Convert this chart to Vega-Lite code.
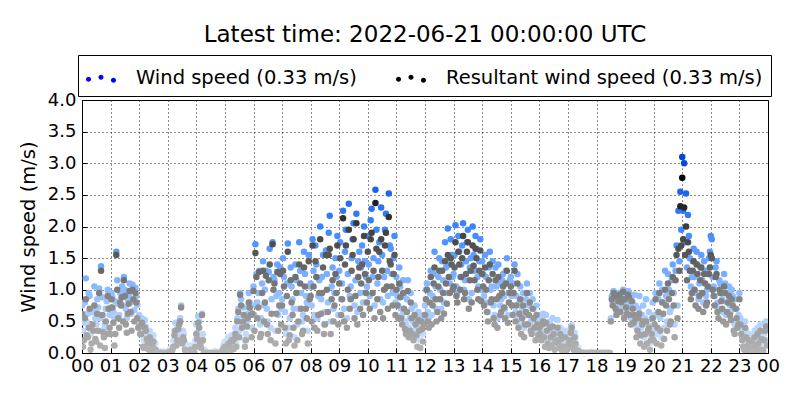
{
  "$schema": "https://vega.github.io/schema/vega-lite/v6.json",
  "autosize": {"type": "none"},
  "padding": {"left": 82, "top": 100, "right": 32, "bottom": 47},
  "width": 686,
  "height": 253,
  "background": "white",
  "config": {
    "font": "DejaVu Sans",
    "view": {"stroke": "black", "strokeWidth": 1},
    "axis": {
      "labelFont": "DejaVu Sans", "labelFontSize": 18, "labelColor": "black",
      "titleFont": "DejaVu Sans", "titleFontSize": 19.5, "titleFontWeight": "normal", "titleColor": "black",
      "grid": true, "gridColor": "black", "gridDash": [1, 3], "gridOpacity": 0.9, "gridWidth": 1,
      "domain": false, "ticks": true, "tickColor": "black", "tickSize": -5, "tickWidth": 1,
      "labelOverlap": false
    }
  },
  "title": {
    "text": "Latest time: 2022-06-21 00:00:00 UTC",
    "font": "DejaVu Sans", "fontSize": 23, "fontWeight": "normal", "color": "black",
    "anchor": "middle", "offset": 8
  },
  "data": {"values": [
    {"m":0,"w":0.75,"r":0.62},{"m":4,"w":0.48,"r":0.20},{"m":8,"w":1.18,"r":0.85},{"m":12,"w":0.62,"r":0.25},{"m":16,"w":0.90,"r":0.70},{"m":20,"w":0.40,"r":0.15},{"m":24,"w":0.70,"r":0.35},{"m":28,"w":0.55,"r":0.22},{"m":32,"w":0.85,"r":0.62},{"m":36,"w":1.02,"r":0.95},{"m":40,"w":1.37,"r":1.30},{"m":44,"w":0.60,"r":0.33},{"m":48,"w":0.45,"r":0.08},{"m":52,"w":0.82,"r":0.30},{"m":56,"w":0.93,"r":0.70},
    {"m":60,"w":0.72,"r":0.30},{"m":64,"w":0.88,"r":0.72},{"m":68,"w":0.55,"r":0.12},{"m":72,"w":1.60,"r":1.55},{"m":76,"w":0.78,"r":0.55},{"m":80,"w":0.95,"r":0.80},{"m":84,"w":1.05,"r":0.88},{"m":88,"w":1.20,"r":1.15},{"m":92,"w":0.70,"r":0.45},{"m":96,"w":0.85,"r":0.62},{"m":100,"w":1.10,"r":0.98},{"m":104,"w":0.62,"r":0.35},{"m":108,"w":0.98,"r":0.85},{"m":112,"w":1.03,"r":0.95},{"m":116,"w":0.76,"r":0.55},
    {"m":120,"w":0.60,"r":0.42},{"m":124,"w":0.45,"r":0.30},{"m":128,"w":0.28,"r":0.10},{"m":132,"w":0.52,"r":0.40},{"m":136,"w":0.35,"r":0.22},{"m":140,"w":0.18,"r":0.05},{"m":144,"w":0.30,"r":0.20},{"m":148,"w":0.22,"r":0.12},{"m":152,"w":0.10,"r":0.03},{"m":156,"w":0.05,"r":0.02},{"m":160,"w":0.00,"r":0.00},{"m":164,"w":0.00,"r":0.00},{"m":168,"w":0.02,"r":0.00},{"m":172,"w":0.00,"r":0.00},{"m":176,"w":0.00,"r":0.00},
    {"m":180,"w":0.00,"r":0.00},{"m":184,"w":0.05,"r":0.02},{"m":188,"w":0.00,"r":0.00},{"m":192,"w":0.20,"r":0.10},{"m":196,"w":0.48,"r":0.35},{"m":200,"w":0.30,"r":0.20},{"m":204,"w":0.50,"r":0.45},{"m":208,"w":0.75,"r":0.72},{"m":212,"w":0.35,"r":0.25},{"m":216,"w":0.15,"r":0.05},{"m":220,"w":0.00,"r":0.00},{"m":224,"w":0.00,"r":0.00},{"m":228,"w":0.12,"r":0.05},{"m":232,"w":0.00,"r":0.00},{"m":236,"w":0.05,"r":0.00},
    {"m":240,"w":0.45,"r":0.30},{"m":244,"w":0.58,"r":0.48},{"m":248,"w":0.25,"r":0.15},{"m":252,"w":0.62,"r":0.60},{"m":256,"w":0.00,"r":0.00},{"m":260,"w":0.00,"r":0.00},{"m":264,"w":0.00,"r":0.00},{"m":268,"w":0.00,"r":0.00},{"m":272,"w":0.00,"r":0.00},{"m":276,"w":0.00,"r":0.00},{"m":280,"w":0.03,"r":0.00},{"m":284,"w":0.00,"r":0.00},{"m":288,"w":0.00,"r":0.00},{"m":292,"w":0.00,"r":0.00},{"m":296,"w":0.10,"r":0.05},
    {"m":300,"w":0.18,"r":0.10},{"m":304,"w":0.08,"r":0.03},{"m":308,"w":0.25,"r":0.15},{"m":312,"w":0.12,"r":0.08},{"m":316,"w":0.20,"r":0.18},{"m":320,"w":0.30,"r":0.22},{"m":324,"w":0.15,"r":0.10},{"m":328,"w":0.70,"r":0.65},{"m":332,"w":0.95,"r":0.92},{"m":336,"w":0.45,"r":0.40},{"m":340,"w":0.72,"r":0.60},{"m":344,"w":0.30,"r":0.20},{"m":348,"w":0.62,"r":0.55},{"m":352,"w":0.80,"r":0.72},{"m":356,"w":0.40,"r":0.25},
    {"m":360,"w":1.05,"r":0.98},{"m":364,"w":1.72,"r":1.58},{"m":368,"w":0.80,"r":0.55},{"m":372,"w":1.30,"r":1.28},{"m":376,"w":0.55,"r":0.30},{"m":380,"w":1.45,"r":1.30},{"m":384,"w":1.00,"r":0.80},{"m":388,"w":0.70,"r":0.45},{"m":392,"w":1.28,"r":1.15},{"m":396,"w":0.40,"r":0.20},{"m":400,"w":1.75,"r":1.72},{"m":404,"w":1.15,"r":1.10},{"m":408,"w":0.90,"r":0.62},{"m":412,"w":0.60,"r":0.35},{"m":416,"w":1.35,"r":1.25},
    {"m":420,"w":0.85,"r":0.75},{"m":424,"w":1.20,"r":1.05},{"m":428,"w":0.30,"r":0.15},{"m":432,"w":1.73,"r":1.60},{"m":436,"w":0.55,"r":0.28},{"m":440,"w":1.05,"r":0.80},{"m":444,"w":0.70,"r":0.40},{"m":448,"w":1.40,"r":1.20},{"m":452,"w":0.45,"r":0.20},{"m":456,"w":1.75,"r":1.40},{"m":460,"w":0.95,"r":0.70},{"m":464,"w":0.60,"r":0.35},{"m":468,"w":1.25,"r":1.05},{"m":472,"w":0.80,"r":0.55},{"m":476,"w":1.55,"r":1.45},
    {"m":480,"w":1.10,"r":0.90},{"m":484,"w":1.80,"r":1.70},{"m":488,"w":0.60,"r":0.40},{"m":492,"w":1.40,"r":1.20},{"m":496,"w":0.90,"r":0.60},{"m":500,"w":2.00,"r":1.80},{"m":504,"w":1.20,"r":0.95},{"m":508,"w":0.45,"r":0.30},{"m":512,"w":1.62,"r":1.55},{"m":516,"w":0.80,"r":0.65},{"m":520,"w":2.17,"r":1.65},{"m":524,"w":1.05,"r":0.85},{"m":528,"w":0.70,"r":0.50},{"m":532,"w":1.50,"r":1.25},{"m":536,"w":1.85,"r":1.70},
    {"m":540,"w":1.30,"r":1.10},{"m":544,"w":0.85,"r":0.60},{"m":548,"w":2.25,"r":2.13},{"m":552,"w":1.60,"r":1.40},{"m":556,"w":0.55,"r":0.40},{"m":560,"w":2.36,"r":1.95},{"m":564,"w":1.05,"r":0.85},{"m":568,"w":1.80,"r":1.55},{"m":572,"w":0.75,"r":0.55},{"m":576,"w":2.20,"r":2.05},{"m":580,"w":1.45,"r":1.20},{"m":584,"w":0.95,"r":0.70},{"m":588,"w":1.70,"r":1.40},{"m":592,"w":2.00,"r":1.85},{"m":596,"w":1.20,"r":0.95},
    {"m":600,"w":1.85,"r":1.60},{"m":604,"w":0.90,"r":0.70},{"m":608,"w":2.28,"r":1.90},{"m":612,"w":1.50,"r":1.30},{"m":616,"w":2.58,"r":2.37},{"m":620,"w":1.10,"r":0.85},{"m":624,"w":1.75,"r":1.60},{"m":628,"w":2.30,"r":1.80},{"m":632,"w":0.80,"r":0.55},{"m":636,"w":1.95,"r":1.70},{"m":640,"w":1.30,"r":1.05},{"m":644,"w":2.52,"r":2.15},{"m":648,"w":1.65,"r":1.40},{"m":652,"w":0.95,"r":0.75},{"m":656,"w":1.85,"r":1.55},
    {"m":660,"w":1.20,"r":1.00},{"m":664,"w":0.75,"r":0.55},{"m":668,"w":1.05,"r":0.88},{"m":672,"w":0.60,"r":0.45},{"m":676,"w":0.90,"r":0.70},{"m":680,"w":0.45,"r":0.30},{"m":684,"w":1.15,"r":0.98},{"m":688,"w":0.55,"r":0.35},{"m":692,"w":0.70,"r":0.55},{"m":696,"w":0.35,"r":0.20},{"m":700,"w":0.55,"r":0.45},{"m":704,"w":0.25,"r":0.10},{"m":708,"w":0.45,"r":0.35},{"m":712,"w":0.60,"r":0.50},{"m":716,"w":0.30,"r":0.18},
    {"m":720,"w":0.75,"r":0.60},{"m":724,"w":1.10,"r":1.00},{"m":728,"w":0.55,"r":0.40},{"m":732,"w":1.30,"r":1.20},{"m":736,"w":0.90,"r":0.75},{"m":740,"w":1.60,"r":1.35},{"m":744,"w":0.70,"r":0.50},{"m":748,"w":1.20,"r":1.05},{"m":752,"w":1.00,"r":0.85},{"m":756,"w":1.45,"r":1.30},{"m":760,"w":0.80,"r":0.62},{"m":764,"w":1.35,"r":1.10},{"m":768,"w":1.97,"r":1.55},{"m":772,"w":1.10,"r":0.95},{"m":776,"w":1.55,"r":1.40},
    {"m":780,"w":1.25,"r":1.05},{"m":784,"w":2.02,"r":1.75},{"m":788,"w":0.95,"r":0.80},{"m":792,"w":1.60,"r":1.40},{"m":796,"w":1.40,"r":1.20},{"m":800,"w":2.05,"r":1.85},{"m":804,"w":1.15,"r":0.95},{"m":808,"w":1.75,"r":1.60},{"m":812,"w":0.85,"r":0.70},{"m":816,"w":1.50,"r":1.30},{"m":820,"w":2.00,"r":1.70},{"m":824,"w":1.30,"r":1.15},{"m":828,"w":1.65,"r":1.50},{"m":832,"w":1.05,"r":0.85},{"m":836,"w":1.80,"r":1.62},
    {"m":840,"w":1.45,"r":1.25},{"m":844,"w":0.90,"r":0.75},{"m":848,"w":1.20,"r":1.00},{"m":852,"w":0.65,"r":0.50},{"m":856,"w":1.60,"r":1.40},{"m":860,"w":1.05,"r":0.85},{"m":864,"w":0.75,"r":0.55},{"m":868,"w":1.35,"r":1.15},{"m":872,"w":0.55,"r":0.40},{"m":876,"w":1.10,"r":0.90},{"m":880,"w":0.85,"r":0.65},{"m":884,"w":1.25,"r":1.05},{"m":888,"w":0.70,"r":0.55},{"m":892,"w":1.50,"r":1.30},{"m":896,"w":0.95,"r":0.80},
    {"m":900,"w":1.20,"r":1.05},{"m":904,"w":0.75,"r":0.60},{"m":908,"w":1.40,"r":1.30},{"m":912,"w":0.90,"r":0.75},{"m":916,"w":0.55,"r":0.40},{"m":920,"w":1.05,"r":0.85},{"m":924,"w":0.70,"r":0.55},{"m":928,"w":0.40,"r":0.25},{"m":932,"w":0.85,"r":0.65},{"m":936,"w":0.60,"r":0.45},{"m":940,"w":0.95,"r":0.80},{"m":944,"w":0.45,"r":0.30},{"m":948,"w":0.70,"r":0.55},{"m":952,"w":0.35,"r":0.20},{"m":956,"w":0.60,"r":0.45},
    {"m":960,"w":0.50,"r":0.40},{"m":964,"w":0.30,"r":0.20},{"m":968,"w":0.62,"r":0.50},{"m":972,"w":0.20,"r":0.10},{"m":976,"w":0.45,"r":0.35},{"m":980,"w":0.15,"r":0.08},{"m":984,"w":0.35,"r":0.25},{"m":988,"w":0.55,"r":0.42},{"m":992,"w":0.10,"r":0.05},{"m":996,"w":0.30,"r":0.20},{"m":1000,"w":0.25,"r":0.15},{"m":1004,"w":0.40,"r":0.30},{"m":1008,"w":0.08,"r":0.03},{"m":1012,"w":0.20,"r":0.10},{"m":1016,"w":0.05,"r":0.02},
    {"m":1020,"w":0.15,"r":0.08},{"m":1024,"w":0.30,"r":0.20},{"m":1028,"w":0.44,"r":0.40},{"m":1032,"w":0.10,"r":0.05},{"m":1036,"w":0.25,"r":0.15},{"m":1040,"w":0.05,"r":0.02},{"m":1044,"w":0.00,"r":0.00},{"m":1048,"w":0.02,"r":0.00},{"m":1052,"w":0.00,"r":0.00},{"m":1056,"w":0.00,"r":0.00},{"m":1060,"w":0.00,"r":0.00},{"m":1064,"w":0.00,"r":0.00},{"m":1068,"w":0.00,"r":0.00},{"m":1072,"w":0.00,"r":0.00},{"m":1076,"w":0.00,"r":0.00},
    {"m":1080,"w":0.00,"r":0.00},{"m":1084,"w":0.00,"r":0.00},{"m":1088,"w":0.00,"r":0.00},{"m":1092,"w":0.00,"r":0.00},{"m":1096,"w":0.00,"r":0.00},{"m":1100,"w":0.00,"r":0.00},{"m":1104,"w":0.00,"r":0.00},{"m":1108,"w":0.00,"r":0.00},{"m":1112,"w":0.90,"r":0.85},{"m":1116,"w":0.98,"r":0.95},{"m":1120,"w":0.75,"r":0.70},{"m":1124,"w":0.92,"r":0.88},{"m":1128,"w":0.95,"r":0.92},{"m":1132,"w":0.85,"r":0.80},{"m":1136,"w":1.00,"r":0.97},
    {"m":1140,"w":0.90,"r":0.85},{"m":1144,"w":0.70,"r":0.62},{"m":1148,"w":0.95,"r":0.88},{"m":1152,"w":0.55,"r":0.45},{"m":1156,"w":0.80,"r":0.70},{"m":1160,"w":0.92,"r":0.60},{"m":1164,"w":0.40,"r":0.25},{"m":1168,"w":0.70,"r":0.55},{"m":1172,"w":0.30,"r":0.15},{"m":1176,"w":0.60,"r":0.45},{"m":1180,"w":0.25,"r":0.10},{"m":1184,"w":0.85,"r":0.50},{"m":1188,"w":0.45,"r":0.35},{"m":1192,"w":0.15,"r":0.05},{"m":1196,"w":0.55,"r":0.30},
    {"m":1200,"w":0.35,"r":0.20},{"m":1204,"w":0.95,"r":0.85},{"m":1208,"w":0.60,"r":0.40},{"m":1212,"w":1.10,"r":0.95},{"m":1216,"w":0.25,"r":0.12},{"m":1220,"w":0.80,"r":0.62},{"m":1224,"w":1.30,"r":1.00},{"m":1228,"w":0.50,"r":0.35},{"m":1232,"w":1.00,"r":0.85},{"m":1236,"w":0.70,"r":0.50},{"m":1240,"w":1.40,"r":1.20},{"m":1244,"w":0.45,"r":0.25},{"m":1248,"w":1.70,"r":1.55},{"m":1252,"w":2.25,"r":1.65},{"m":1256,"w":2.55,"r":2.32},
    {"m":1260,"w":3.10,"r":2.77},{"m":1264,"w":3.00,"r":2.30},{"m":1268,"w":2.52,"r":2.00},{"m":1272,"w":2.18,"r":1.75},{"m":1276,"w":1.50,"r":1.30},{"m":1280,"w":1.20,"r":0.95},{"m":1284,"w":1.65,"r":1.45},{"m":1288,"w":0.95,"r":0.75},{"m":1292,"w":1.40,"r":1.25},{"m":1296,"w":1.10,"r":0.90},{"m":1300,"w":1.55,"r":1.35},{"m":1304,"w":0.80,"r":0.65},{"m":1308,"w":1.30,"r":1.10},{"m":1312,"w":1.00,"r":0.80},{"m":1316,"w":1.50,"r":1.25},
    {"m":1320,"w":1.85,"r":1.55},{"m":1324,"w":1.20,"r":1.00},{"m":1328,"w":0.90,"r":0.75},{"m":1332,"w":1.45,"r":1.25},{"m":1336,"w":0.70,"r":0.55},{"m":1340,"w":1.10,"r":0.95},{"m":1344,"w":0.85,"r":0.70},{"m":1348,"w":1.25,"r":1.05},{"m":1352,"w":0.60,"r":0.45},{"m":1356,"w":0.95,"r":0.80},{"m":1360,"w":0.75,"r":0.60},{"m":1364,"w":1.00,"r":0.85},{"m":1368,"w":0.50,"r":0.35},{"m":1372,"w":0.85,"r":0.70},{"m":1376,"w":0.55,"r":0.40},
    {"m":1380,"w":0.95,"r":0.85},{"m":1384,"w":0.40,"r":0.30},{"m":1388,"w":0.20,"r":0.10},{"m":1392,"w":0.50,"r":0.40},{"m":1396,"w":0.10,"r":0.05},{"m":1400,"w":0.30,"r":0.20},{"m":1404,"w":0.05,"r":0.02},{"m":1408,"w":0.15,"r":0.08},{"m":1412,"w":0.35,"r":0.25},{"m":1416,"w":0.08,"r":0.03},{"m":1420,"w":0.25,"r":0.15},{"m":1424,"w":0.45,"r":0.35},{"m":1428,"w":0.12,"r":0.05},{"m":1432,"w":0.30,"r":0.20},{"m":1436,"w":0.50,"r":0.42},
    {"m":2,"w":0.35,"r":0.10},{"m":6,"w":0.80,"r":0.55},{"m":10,"w":0.50,"r":0.28},{"m":14,"w":0.95,"r":0.40},{"m":18,"w":0.30,"r":0.05},{"m":22,"w":0.65,"r":0.45},{"m":26,"w":1.05,"r":0.75},{"m":30,"w":0.45,"r":0.18},{"m":34,"w":0.72,"r":0.35},{"m":38,"w":0.55,"r":0.12},{"m":42,"w":0.88,"r":0.60},{"m":46,"w":0.38,"r":0.25},{"m":50,"w":0.70,"r":0.50},{"m":54,"w":1.00,"r":0.90},{"m":58,"w":0.60,"r":0.40},
    {"m":62,"w":0.95,"r":0.85},{"m":66,"w":0.65,"r":0.48},{"m":70,"w":0.82,"r":0.30},{"m":74,"w":1.15,"r":1.00},{"m":78,"w":0.60,"r":0.40},{"m":82,"w":0.88,"r":0.75},{"m":86,"w":0.75,"r":0.50},{"m":90,"w":1.00,"r":0.90},{"m":94,"w":0.55,"r":0.32},{"m":98,"w":0.92,"r":0.78},{"m":102,"w":0.80,"r":0.65},{"m":106,"w":1.08,"r":1.00},{"m":110,"w":0.68,"r":0.50},{"m":114,"w":0.90,"r":0.80},{"m":118,"w":0.55,"r":0.40},
    {"m":122,"w":0.40,"r":0.30},{"m":126,"w":0.55,"r":0.48},{"m":130,"w":0.20,"r":0.08},{"m":134,"w":0.42,"r":0.35},{"m":138,"w":0.25,"r":0.15},{"m":142,"w":0.35,"r":0.25},{"m":146,"w":0.12,"r":0.05},{"m":150,"w":0.28,"r":0.18},{"m":154,"w":0.15,"r":0.05},{"m":158,"w":0.00,"r":0.00},{"m":162,"w":0.03,"r":0.00},{"m":166,"w":0.00,"r":0.00},{"m":170,"w":0.00,"r":0.00},{"m":174,"w":0.02,"r":0.00},{"m":178,"w":0.00,"r":0.00},
    {"m":182,"w":0.00,"r":0.00},{"m":186,"w":0.00,"r":0.00},{"m":190,"w":0.10,"r":0.05},{"m":194,"w":0.35,"r":0.28},{"m":198,"w":0.25,"r":0.12},{"m":202,"w":0.42,"r":0.38},{"m":206,"w":0.55,"r":0.50},{"m":210,"w":0.22,"r":0.15},{"m":214,"w":0.30,"r":0.20},{"m":218,"w":0.08,"r":0.02},{"m":222,"w":0.00,"r":0.00},{"m":226,"w":0.05,"r":0.00},{"m":230,"w":0.00,"r":0.00},{"m":234,"w":0.00,"r":0.00},{"m":238,"w":0.20,"r":0.10},
    {"m":242,"w":0.32,"r":0.22},{"m":246,"w":0.50,"r":0.40},{"m":250,"w":0.15,"r":0.08},{"m":254,"w":0.30,"r":0.20},{"m":258,"w":0.05,"r":0.00},{"m":262,"w":0.00,"r":0.00},{"m":266,"w":0.00,"r":0.00},{"m":270,"w":0.00,"r":0.00},{"m":274,"w":0.00,"r":0.00},{"m":278,"w":0.00,"r":0.00},{"m":282,"w":0.00,"r":0.00},{"m":286,"w":0.00,"r":0.00},{"m":290,"w":0.00,"r":0.00},{"m":294,"w":0.05,"r":0.02},{"m":298,"w":0.15,"r":0.08},
    {"m":302,"w":0.10,"r":0.05},{"m":306,"w":0.22,"r":0.12},{"m":310,"w":0.05,"r":0.02},{"m":314,"w":0.28,"r":0.20},{"m":318,"w":0.12,"r":0.06},{"m":322,"w":0.40,"r":0.30},{"m":326,"w":0.55,"r":0.50},{"m":330,"w":0.35,"r":0.25},{"m":334,"w":0.85,"r":0.75},{"m":338,"w":0.60,"r":0.50},{"m":342,"w":0.20,"r":0.10},{"m":346,"w":0.50,"r":0.42},{"m":350,"w":0.95,"r":0.80},{"m":354,"w":0.65,"r":0.60},{"m":358,"w":0.75,"r":0.62},
    {"m":362,"w":0.60,"r":0.35},{"m":366,"w":1.25,"r":1.20},{"m":370,"w":0.95,"r":0.72},{"m":374,"w":0.45,"r":0.25},{"m":378,"w":1.10,"r":0.95},{"m":382,"w":0.75,"r":0.50},{"m":386,"w":1.30,"r":1.22},{"m":390,"w":0.50,"r":0.30},{"m":394,"w":1.65,"r":1.40},{"m":398,"w":0.85,"r":0.62},{"m":402,"w":1.20,"r":1.00},{"m":406,"w":0.35,"r":0.15},{"m":410,"w":1.40,"r":1.28},{"m":414,"w":0.95,"r":0.75},{"m":418,"w":0.70,"r":0.45},
    {"m":422,"w":1.50,"r":1.30},{"m":426,"w":0.65,"r":0.40},{"m":430,"w":1.10,"r":0.90},{"m":434,"w":0.40,"r":0.20},{"m":438,"w":1.35,"r":1.15},{"m":442,"w":0.85,"r":0.60},{"m":446,"w":0.25,"r":0.12},{"m":450,"w":1.15,"r":0.95},{"m":454,"w":0.70,"r":0.50},{"m":458,"w":1.30,"r":1.10},{"m":462,"w":0.50,"r":0.30},{"m":466,"w":1.60,"r":1.35},{"m":470,"w":0.90,"r":0.70},{"m":474,"w":0.35,"r":0.15},{"m":478,"w":1.05,"r":0.85},
    {"m":482,"w":0.75,"r":0.50},{"m":486,"w":1.30,"r":1.05},{"m":490,"w":1.70,"r":1.45},{"m":494,"w":0.55,"r":0.35},{"m":498,"w":1.15,"r":0.95},{"m":502,"w":0.85,"r":0.62},{"m":506,"w":1.55,"r":1.35},{"m":510,"w":0.65,"r":0.45},{"m":514,"w":1.25,"r":1.00},{"m":518,"w":1.90,"r":1.55},{"m":522,"w":0.50,"r":0.30},{"m":526,"w":1.35,"r":1.15},{"m":530,"w":0.95,"r":0.75},{"m":534,"w":1.20,"r":0.95},{"m":538,"w":0.60,"r":0.45},
    {"m":542,"w":1.75,"r":1.50},{"m":546,"w":1.10,"r":0.85},{"m":550,"w":0.70,"r":0.50},{"m":554,"w":1.95,"r":1.70},{"m":558,"w":1.25,"r":1.00},{"m":562,"w":0.90,"r":0.70},{"m":566,"w":1.50,"r":1.30},{"m":570,"w":2.05,"r":1.80},{"m":574,"w":1.15,"r":0.90},{"m":578,"w":0.65,"r":0.45},{"m":582,"w":1.60,"r":1.35},{"m":586,"w":1.35,"r":1.10},{"m":590,"w":0.80,"r":0.60},{"m":594,"w":1.45,"r":1.25},{"m":598,"w":1.05,"r":0.80},
    {"m":602,"w":1.40,"r":1.15},{"m":606,"w":2.10,"r":1.80},{"m":610,"w":1.20,"r":0.95},{"m":614,"w":0.75,"r":0.55},{"m":618,"w":1.95,"r":1.65},{"m":622,"w":1.45,"r":1.20},{"m":626,"w":0.85,"r":0.65},{"m":630,"w":1.55,"r":1.30},{"m":634,"w":1.20,"r":1.00},{"m":638,"w":2.20,"r":1.90},{"m":642,"w":0.90,"r":0.70},{"m":646,"w":1.70,"r":1.45},{"m":650,"w":1.25,"r":1.05},{"m":654,"w":1.50,"r":1.25},{"m":658,"w":0.80,"r":0.60},
    {"m":662,"w":0.90,"r":0.75},{"m":666,"w":1.35,"r":1.10},{"m":670,"w":0.70,"r":0.55},{"m":674,"w":1.15,"r":0.95},{"m":678,"w":0.50,"r":0.38},{"m":682,"w":0.85,"r":0.65},{"m":686,"w":0.40,"r":0.25},{"m":690,"w":0.95,"r":0.80},{"m":694,"w":0.50,"r":0.30},{"m":698,"w":0.75,"r":0.60},{"m":702,"w":0.40,"r":0.28},{"m":706,"w":0.65,"r":0.52},{"m":710,"w":0.20,"r":0.08},{"m":714,"w":0.50,"r":0.38},{"m":718,"w":0.55,"r":0.45},
    {"m":722,"w":1.00,"r":0.85},{"m":726,"w":0.65,"r":0.50},{"m":730,"w":0.95,"r":0.80},{"m":734,"w":0.60,"r":0.45},{"m":738,"w":1.25,"r":1.10},{"m":742,"w":1.05,"r":0.85},{"m":746,"w":0.85,"r":0.65},{"m":750,"w":1.50,"r":1.30},{"m":754,"w":0.70,"r":0.55},{"m":758,"w":1.15,"r":0.95},{"m":762,"w":1.75,"r":1.45},{"m":766,"w":0.95,"r":0.78},{"m":770,"w":1.40,"r":1.20},{"m":774,"w":1.80,"r":1.50},{"m":778,"w":1.20,"r":1.00},
    {"m":782,"w":1.55,"r":1.35},{"m":786,"w":1.05,"r":0.90},{"m":790,"w":1.85,"r":1.60},{"m":794,"w":1.20,"r":1.00},{"m":798,"w":1.70,"r":1.50},{"m":802,"w":1.00,"r":0.85},{"m":806,"w":1.45,"r":1.25},{"m":810,"w":1.95,"r":1.75},{"m":814,"w":1.35,"r":1.15},{"m":818,"w":0.95,"r":0.80},{"m":822,"w":1.55,"r":1.38},{"m":826,"w":1.85,"r":1.65},{"m":830,"w":1.20,"r":1.00},{"m":834,"w":1.45,"r":1.30},{"m":838,"w":1.00,"r":0.82},
    {"m":842,"w":1.25,"r":1.05},{"m":846,"w":1.55,"r":1.35},{"m":850,"w":0.80,"r":0.65},{"m":854,"w":1.35,"r":1.15},{"m":858,"w":1.00,"r":0.80},{"m":862,"w":1.45,"r":1.25},{"m":866,"w":0.60,"r":0.45},{"m":870,"w":1.05,"r":0.85},{"m":874,"w":1.40,"r":1.20},{"m":878,"w":0.75,"r":0.60},{"m":882,"w":1.15,"r":0.95},{"m":886,"w":0.90,"r":0.72},{"m":890,"w":1.30,"r":1.10},{"m":894,"w":0.60,"r":0.48},{"m":898,"w":1.15,"r":0.95},
    {"m":902,"w":0.90,"r":0.75},{"m":906,"w":1.10,"r":0.95},{"m":910,"w":0.65,"r":0.50},{"m":914,"w":1.25,"r":1.10},{"m":918,"w":0.80,"r":0.62},{"m":922,"w":0.45,"r":0.30},{"m":926,"w":0.95,"r":0.75},{"m":930,"w":0.60,"r":0.45},{"m":934,"w":1.10,"r":0.95},{"m":938,"w":0.75,"r":0.60},{"m":942,"w":0.50,"r":0.35},{"m":946,"w":0.85,"r":0.70},{"m":950,"w":0.55,"r":0.40},{"m":954,"w":0.75,"r":0.60},{"m":958,"w":0.40,"r":0.28},
    {"m":962,"w":0.40,"r":0.30},{"m":966,"w":0.55,"r":0.45},{"m":970,"w":0.35,"r":0.25},{"m":974,"w":0.60,"r":0.48},{"m":978,"w":0.25,"r":0.15},{"m":982,"w":0.50,"r":0.40},{"m":986,"w":0.20,"r":0.12},{"m":990,"w":0.40,"r":0.30},{"m":994,"w":0.28,"r":0.18},{"m":998,"w":0.52,"r":0.40},{"m":1002,"w":0.15,"r":0.08},{"m":1006,"w":0.30,"r":0.22},{"m":1010,"w":0.18,"r":0.10},{"m":1014,"w":0.35,"r":0.25},{"m":1018,"w":0.10,"r":0.05},
    {"m":1022,"w":0.25,"r":0.15},{"m":1026,"w":0.40,"r":0.32},{"m":1030,"w":0.20,"r":0.12},{"m":1034,"w":0.32,"r":0.25},{"m":1038,"w":0.12,"r":0.05},{"m":1042,"w":0.08,"r":0.03},{"m":1046,"w":0.00,"r":0.00},{"m":1050,"w":0.00,"r":0.00},{"m":1054,"w":0.00,"r":0.00},{"m":1058,"w":0.00,"r":0.00},{"m":1062,"w":0.00,"r":0.00},{"m":1066,"w":0.00,"r":0.00},{"m":1070,"w":0.02,"r":0.00},{"m":1074,"w":0.00,"r":0.00},{"m":1078,"w":0.00,"r":0.00},
    {"m":1082,"w":0.00,"r":0.00},{"m":1086,"w":0.00,"r":0.00},{"m":1090,"w":0.00,"r":0.00},{"m":1094,"w":0.00,"r":0.00},{"m":1098,"w":0.00,"r":0.00},{"m":1102,"w":0.00,"r":0.00},{"m":1106,"w":0.00,"r":0.00},{"m":1110,"w":0.55,"r":0.50},{"m":1114,"w":0.80,"r":0.75},{"m":1118,"w":0.95,"r":0.92},{"m":1122,"w":0.65,"r":0.60},{"m":1126,"w":0.85,"r":0.82},{"m":1130,"w":0.70,"r":0.65},{"m":1134,"w":0.92,"r":0.85},{"m":1138,"w":0.60,"r":0.55},
    {"m":1142,"w":0.80,"r":0.72},{"m":1146,"w":0.98,"r":0.92},{"m":1150,"w":0.75,"r":0.60},{"m":1154,"w":0.90,"r":0.82},{"m":1158,"w":0.60,"r":0.48},{"m":1162,"w":0.75,"r":0.55},{"m":1166,"w":0.50,"r":0.35},{"m":1170,"w":0.90,"r":0.62},{"m":1174,"w":0.40,"r":0.28},{"m":1178,"w":0.75,"r":0.50},{"m":1182,"w":0.55,"r":0.30},{"m":1186,"w":0.30,"r":0.15},{"m":1190,"w":0.65,"r":0.40},{"m":1194,"w":0.35,"r":0.20},{"m":1198,"w":0.80,"r":0.55},
    {"m":1202,"w":0.60,"r":0.45},{"m":1206,"w":0.30,"r":0.15},{"m":1210,"w":0.85,"r":0.65},{"m":1214,"w":0.55,"r":0.35},{"m":1218,"w":1.00,"r":0.80},{"m":1222,"w":0.40,"r":0.22},{"m":1226,"w":0.90,"r":0.75},{"m":1230,"w":1.25,"r":1.10},{"m":1234,"w":0.65,"r":0.45},{"m":1238,"w":1.15,"r":0.95},{"m":1242,"w":0.95,"r":0.75},{"m":1246,"w":1.30,"r":1.15},{"m":1250,"w":0.75,"r":0.55},{"m":1254,"w":1.45,"r":1.30},{"m":1258,"w":1.95,"r":1.70},
    {"m":1262,"w":2.25,"r":1.80},{"m":1266,"w":1.75,"r":1.55},{"m":1270,"w":1.35,"r":1.15},{"m":1274,"w":1.85,"r":1.60},{"m":1278,"w":1.05,"r":0.85},{"m":1282,"w":1.45,"r":1.30},{"m":1286,"w":1.20,"r":1.00},{"m":1290,"w":1.60,"r":1.40},{"m":1294,"w":0.85,"r":0.70},{"m":1298,"w":1.35,"r":1.15},{"m":1302,"w":1.15,"r":0.95},{"m":1306,"w":1.45,"r":1.25},{"m":1310,"w":0.90,"r":0.75},{"m":1314,"w":1.25,"r":1.05},{"m":1318,"w":1.60,"r":1.35},
    {"m":1322,"w":1.80,"r":1.50},{"m":1326,"w":1.05,"r":0.90},{"m":1330,"w":1.35,"r":1.20},{"m":1334,"w":0.80,"r":0.65},{"m":1338,"w":1.15,"r":1.00},{"m":1342,"w":0.95,"r":0.82},{"m":1346,"w":0.65,"r":0.50},{"m":1350,"w":1.10,"r":0.95},{"m":1354,"w":0.80,"r":0.65},{"m":1358,"w":1.05,"r":0.90},{"m":1362,"w":0.65,"r":0.52},{"m":1366,"w":0.90,"r":0.75},{"m":1370,"w":0.45,"r":0.30},{"m":1374,"w":0.70,"r":0.55},{"m":1378,"w":0.60,"r":0.45},
    {"m":1382,"w":0.55,"r":0.45},{"m":1386,"w":0.30,"r":0.20},{"m":1390,"w":0.10,"r":0.05},{"m":1394,"w":0.35,"r":0.25},{"m":1398,"w":0.20,"r":0.12},{"m":1402,"w":0.15,"r":0.08},{"m":1406,"w":0.28,"r":0.18},{"m":1410,"w":0.05,"r":0.02},{"m":1414,"w":0.20,"r":0.12},{"m":1418,"w":0.40,"r":0.30},{"m":1422,"w":0.12,"r":0.05},{"m":1426,"w":0.30,"r":0.22},{"m":1430,"w":0.05,"r":0.02},{"m":1434,"w":0.45,"r":0.35},{"m":1438,"w":0.20,"r":0.12}
  ]},
  "encoding": {
    "x": {"field": "m", "type": "quantitative",
          "scale": {"domain": [0, 1440], "nice": false, "zero": false},
          "axis": {"title": null, "values": [0,60,120,180,240,300,360,420,480,540,600,660,720,780,840,900,960,1020,1080,1140,1200,1260,1320,1380,1440],
                   "labelExpr": "(floor(datum.value/60)%24 < 10 ? '0' : '') + (floor(datum.value/60)%24)",
                   "labelOverlap": false, "labelFlush": false, "labelPadding": 9}}
  },
  "layer": [
    {
      "mark": {"type": "point", "filled": true, "size": 42, "opacity": 1, "clip": true},
      "encoding": {
        "y": {"field": "w", "type": "quantitative",
              "scale": {"domain": [0, 4], "nice": false},
              "axis": {"title": "Wind speed (m/s)", "values": [0,0.5,1,1.5,2,2.5,3,3.5,4], "format": ".1f", "labelOverlap": false, "labelPadding": 11, "titlePadding": 9}},
        "color": {"field": "w", "type": "quantitative", "legend": null,
                  "scale": {"domain": [0, 1, 2, 3.1], "range": ["#d6e6ff", "#8dbbff", "#3a85ff", "#0045d6"], "interpolate": "rgb"}}
      }
    },
    {
      "mark": {"type": "point", "filled": true, "size": 42, "opacity": 1, "clip": true},
      "encoding": {
        "y": {"field": "r", "type": "quantitative",
              "axis": {"title": "Wind speed (m/s)", "values": [0,0.5,1,1.5,2,2.5,3,3.5,4], "format": ".1f", "labelOverlap": false, "labelPadding": 11, "titlePadding": 9}},
        "color": {"field": "r", "type": "quantitative", "legend": null,
                  "scale": {"domain": [0, 0.5, 1, 1.5, 2, 2.8], "range": ["#b4b4b4", "#9a9a9a", "#7c7c7c", "#5a5a5a", "#3c3c3c", "#000000"], "interpolate": "rgb"}}
      }
    },
    {
      "data": {"values": [
        {"series": "Wind speed (0.33 m/s)"},
        {"series": "Resultant wind speed (0.33 m/s)"}
      ]},
      "mark": {"type": "point", "filled": true, "opacity": 0},
      "encoding": {
        "x": null,
        "color": {"field": "series", "type": "nominal",
                  "scale": {"domain": ["Wind speed (0.33 m/s)", "Resultant wind speed (0.33 m/s)"], "range": ["#0000ff", "#000000"]},
                  "legend": {"title": null, "orient": "none", "legendX": -4, "legendY": -45, "direction": "horizontal",
                             "strokeColor": "black", "fillColor": "white", "padding": 8, "cornerRadius": 0,
                             "symbolType": "M-1,0.07a0.17,0.17 0 1,0 0.34,0a0.17,0.17 0 1,0 -0.34,0ZM-0.17,-0.07a0.17,0.17 0 1,0 0.34,0a0.17,0.17 0 1,0 -0.34,0ZM0.66,0.13a0.17,0.17 0 1,0 0.34,0a0.17,0.17 0 1,0 -0.34,0Z",
                             "symbolSize": 900, "symbolOpacity": 1, "symbolStrokeWidth": 0,
                             "labelFont": "DejaVu Sans", "labelFontSize": 19.5, "labelColor": "black",
                             "labelOffset": 20, "columnPadding": 39, "labelLimit": 0}}
      }
    }
  ],
  "resolve": {"scale": {"color": "independent"}}
}
